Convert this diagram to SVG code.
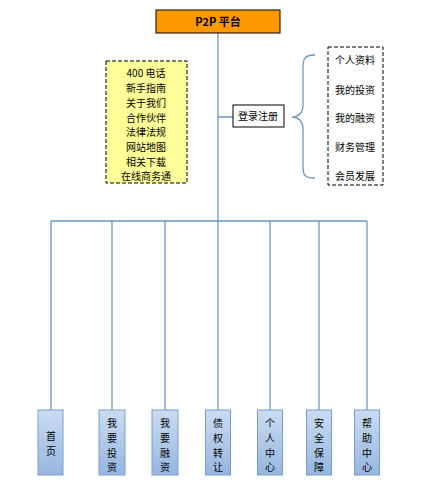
<svg xmlns="http://www.w3.org/2000/svg" width="440" height="493" viewBox="0 0 440 493">
<style>
text{font-family:"Noto Sans CJK SC","Liberation Sans",sans-serif;font-size:10px;fill:#000}
.c{text-anchor:middle}
.ln{stroke:#6f97c4;stroke-width:1.3;fill:none}
.bx{fill:url(#g);stroke:#7a9ec8;stroke-width:1}
</style>
<defs>
<linearGradient id="g" x1="0" y1="0" x2="0" y2="1">
<stop offset="0" stop-color="#cadcf3"/>
<stop offset="1" stop-color="#96b6de"/>
</linearGradient>
</defs>
<rect width="440" height="493" fill="#fff"/>
<g id="connectors">
<path class="ln" d="M218 33V221M218 117H233M51 221H367M51 221V410M112 221V410M165 221V410M218 221V410M270 221V410M319 221V410M367 221V410"/>
<path class="ln" stroke="#8eaed6" d="M315 55C303 55 303 60 303 70V105C303 113 298 117 292 117C298 117 303 121 303 129V165C303 174 303 178 315 178"/>
</g>
<g id="top">
<rect x="156" y="10" width="124" height="23" fill="#ff9900" stroke="#000"/>
<text x="218" y="26" class="c" style="font-size:11px;font-weight:bold">P2P 平台</text>
</g>
<g id="info">
<rect x="106" y="61" width="81" height="122" fill="#ffff99" stroke="#000" stroke-dasharray="4,2"/>
<text x="146" y="77" class="c">400 电话</text>
<text x="146" y="92" class="c">新手指南</text>
<text x="146" y="107" class="c">关于我们</text>
<text x="146" y="122" class="c">合作伙伴</text>
<text x="146" y="136" class="c">法律法规</text>
<text x="146" y="151" class="c">网站地图</text>
<text x="146" y="166" class="c">相关下载</text>
<text x="146" y="180" class="c">在线商务通</text>
</g>
<g id="login">
<rect x="233" y="105" width="51" height="22" fill="#fff" stroke="#000"/>
<text x="258" y="120" class="c">登录注册</text>
</g>
<g id="user">
<rect x="328" y="47" width="55" height="138" fill="#fff" stroke="#000" stroke-dasharray="4,2"/>
<text x="335" y="64">个人资料</text>
<text x="335" y="94">我的投资</text>
<text x="335" y="122">我的融资</text>
<text x="335" y="151">财务管理</text>
<text x="335" y="180">会员发展</text>
</g>
<g id="n1"><rect class="bx" x="38" y="410" width="25" height="65"/><text x="51" y="440" class="c">首</text><text x="51" y="455" class="c">页</text></g>
<g id="n2"><rect class="bx" x="99" y="410" width="26" height="65"/><text x="112" y="427" class="c">我</text><text x="112" y="442" class="c">要</text><text x="112" y="457" class="c">投</text><text x="112" y="471" class="c">资</text></g>
<g id="n3"><rect class="bx" x="152" y="410" width="26" height="65"/><text x="165" y="427" class="c">我</text><text x="165" y="442" class="c">要</text><text x="165" y="457" class="c">融</text><text x="165" y="471" class="c">资</text></g>
<g id="n4"><rect class="bx" x="205.5" y="410" width="25" height="65"/><text x="218" y="427" class="c">债</text><text x="218" y="442" class="c">权</text><text x="218" y="457" class="c">转</text><text x="218" y="471" class="c">让</text></g>
<g id="n5"><rect class="bx" x="257.5" y="410" width="25" height="65"/><text x="270" y="427" class="c">个</text><text x="270" y="442" class="c">人</text><text x="270" y="457" class="c">中</text><text x="270" y="471" class="c">心</text></g>
<g id="n6"><rect class="bx" x="306.5" y="410" width="25" height="65"/><text x="319" y="427" class="c">安</text><text x="319" y="442" class="c">全</text><text x="319" y="457" class="c">保</text><text x="319" y="471" class="c">障</text></g>
<g id="n7"><rect class="bx" x="354.5" y="410" width="25" height="65"/><text x="367" y="427" class="c">帮</text><text x="367" y="442" class="c">助</text><text x="367" y="457" class="c">中</text><text x="367" y="471" class="c">心</text></g>
</svg>
